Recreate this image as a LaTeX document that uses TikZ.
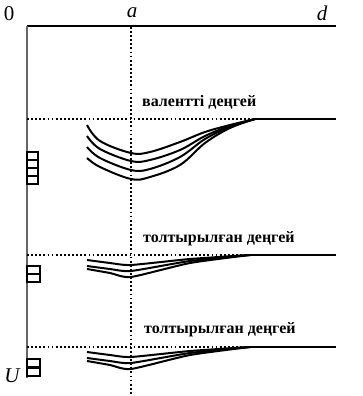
\documentclass[tikz,border=0pt]{standalone}
\usepackage{fontspec}
\setmainfont{Liberation Serif}
\usetikzlibrary{positioning,calc}
\tikzstyle{lvl}=[font=\fontsize{16}{18}\selectfont\bfseries, inner sep=0pt, anchor=base west]
\tikzstyle{ax}=[font=\fontsize{21}{23}\selectfont, inner sep=0pt]
\tikzstyle{dots}=[line width=1.8pt, dash pattern=on 1.8pt off 2.3pt]
\tikzstyle{band}=[line width=2pt, smooth, tension=0.6]
\tikzstyle{rung}=[line width=2.5pt]

\begin{document}
\begin{tikzpicture}[x=1pt,y=-1pt]
\useasboundingbox (0,0) rectangle (363,396);
% axes
\coordinate (O) at (27,26);
\coordinate (D) at (336,26);
\coordinate (B) at (27,378);
\draw[line width=1.6pt] (O) -- (D);
\draw[line width=2.2pt, black!60] (O) -- (B);
\node[ax] at (9,14) (zero) {0};
\node[ax] at (132,13) (a) {\itshape a};
\node[ax] at (322,13) (d) {\itshape d};
\node[ax] at (12,376) (U) {\itshape U};
% dotted line at a
\coordinate (a0) at (131,27);
\coordinate (a1) at (131,396);
\draw[dots] (a0) -- (a1);
% levels
\foreach \y/\x in {119/255, 255/250, 347/250} {
  \draw[dots] (27,\y) -- (\x,\y);
  \draw[line width=2pt] (\x,\y) -- (336,\y);
}
\node[lvl] at (142,106) (val) {валентті деңгей};
\node[lvl] at (143,242) (tol1) {толтырылған деңгей};
\node[lvl] at (144,333) (tol2) {толтырылған деңгей};
% ladders
\draw[rung] (27,152) rectangle (38,184);
\foreach \r in {160,168,176} \draw[rung] (27,\r) -- (38,\r);
\draw[rung] (27,266) rectangle (40,282);
\draw[rung] (27,274) -- (40,274);
\draw[rung] (27,359) rectangle (40,376);
\draw[rung] (27,367.5) -- (40,367.5);
% valence band curves
\draw[band] plot coordinates {(87,125) (100,141) (131,153) (150,152) (180,142) (205,132) (230,125) (255,119)};
\draw[band] plot coordinates {(87,136) (100,149) (131,161) (150,160) (180,150) (205,136) (230,126) (255,119)};
\draw[band] plot coordinates {(87,147) (100,158) (131,170) (150,169) (180,157) (205,139) (230,127) (255,119)};
\draw[band] plot coordinates {(87,158) (100,167) (131,179) (150,177) (180,165) (205,143) (230,128) (255,119)};
% filled band curves
\foreach \b in {255,347} {
  \draw[band, tension=0.35] plot coordinates {(87,\b+5) (110,\b+8) (131,\b+10) (190,\b+4) (250,\b)};
  \draw[band, tension=0.35] plot coordinates {(87,\b+11) (110,\b+14) (131,\b+16) (190,\b+6) (250,\b)};
  \draw[band, tension=0.35] plot coordinates {(87,\b+14) (110,\b+18) (131,\b+22) (190,\b+8) (250,\b)};
}
\end{tikzpicture}
\end{document}
